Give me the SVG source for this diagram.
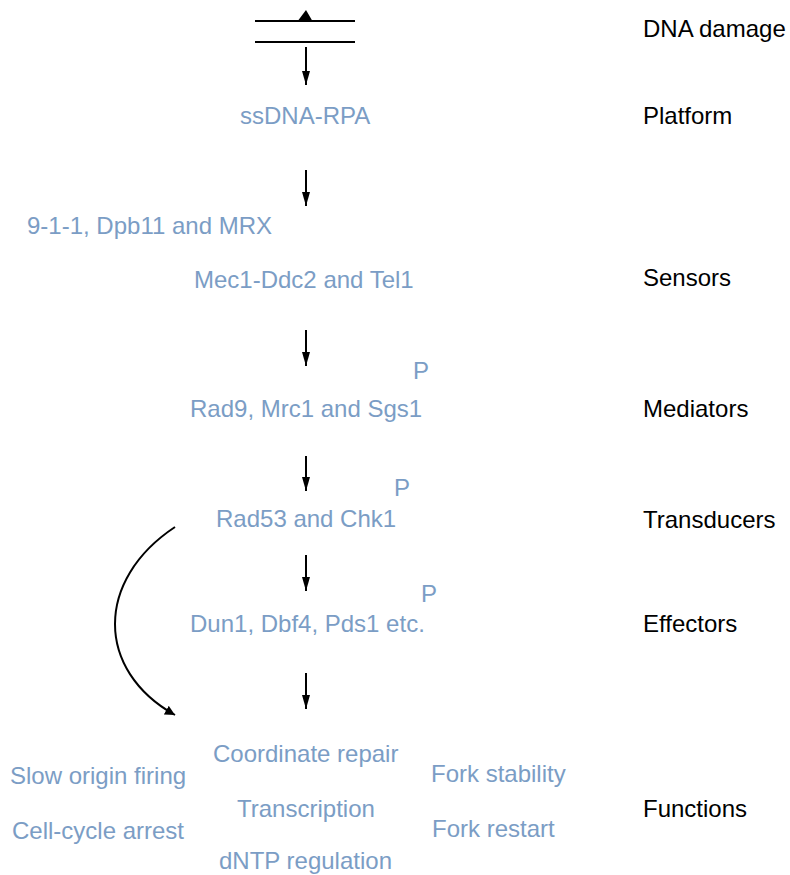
<svg xmlns="http://www.w3.org/2000/svg" width="790" height="875" viewBox="0 0 790 875">
<style>
.b{font-family:"Liberation Sans",Arial,sans-serif;font-size:24px;fill:#7b9dc5}
.k{font-family:"Liberation Sans",Arial,sans-serif;font-size:24px;fill:#000}
.c{stroke:#000;stroke-width:2;fill:none}
</style>
<defs>
<marker id="ah" viewBox="0 0 10 14" refX="10" refY="7" markerWidth="10" markerHeight="14" markerUnits="userSpaceOnUse" orient="auto">
<path d="M0,2 L10,7 L0,12 Z" fill="#000"/>
</marker>
<marker id="av" viewBox="0 0 8 14" refX="4" refY="14" markerWidth="8" markerHeight="14" markerUnits="userSpaceOnUse" orient="0">
<path d="M0,0 L8,0 L4,14 Z" fill="#000"/>
</marker>
</defs>
<g id="dna">
<line x1="255" y1="21" x2="355" y2="21" class="c"/>
<line x1="255" y1="42" x2="355" y2="42" class="c"/>
<polygon points="297,22 313,22 306,10" fill="#000"/>
</g>
<g id="labels">
<text class="k" x="643" y="37">DNA damage</text>
<text class="k" x="643" y="124">Platform</text>
<text class="k" x="643" y="286">Sensors</text>
<text class="k" x="643" y="417">Mediators</text>
<text class="k" x="643" y="528">Transducers</text>
<text class="k" x="643" y="632">Effectors</text>
<text class="k" x="643" y="817">Functions</text>
</g>
<g id="platform"><text class="b" x="240" y="124">ssDNA-RPA</text></g>
<g id="sensors">
<text class="b" x="27" y="234">9-1-1, Dpb11 and MRX</text>
<text class="b" x="194" y="288">Mec1-Ddc2 and Tel1</text>
</g>
<g id="mediators">
<text class="b" x="413" y="379">P</text>
<text class="b" x="190" y="417">Rad9, Mrc1 and Sgs1</text>
</g>
<g id="transducers">
<text class="b" x="394" y="496">P</text>
<text class="b" x="216" y="527">Rad53 and Chk1</text>
</g>
<g id="effectors">
<text class="b" x="421" y="602">P</text>
<text class="b" x="190" y="632">Dun1, Dbf4, Pds1 etc.</text>
</g>
<g id="functions">
<text class="b" x="213" y="762">Coordinate repair</text>
<text class="b" x="10" y="784">Slow origin firing</text>
<text class="b" x="431" y="782">Fork stability</text>
<text class="b" x="237" y="817">Transcription</text>
<text class="b" x="12" y="839">Cell-cycle arrest</text>
<text class="b" x="432" y="837">Fork restart</text>
<text class="b" x="219" y="869">dNTP regulation</text>
</g>
<g id="connectors">
<line x1="306" y1="47" x2="306" y2="85" class="c" marker-end="url(#av)"/>
<line x1="306" y1="170" x2="306" y2="206" class="c" marker-end="url(#av)"/>
<line x1="306" y1="330" x2="306" y2="366" class="c" marker-end="url(#av)"/>
<line x1="306" y1="456" x2="306" y2="491" class="c" marker-end="url(#av)"/>
<line x1="306" y1="555" x2="306" y2="591" class="c" marker-end="url(#av)"/>
<line x1="306" y1="673" x2="306" y2="709" class="c" marker-end="url(#av)"/>
<path d="M175,527 C95,580 95,670 175,715" class="c" marker-end="url(#ah)"/>
</g>
</svg>
